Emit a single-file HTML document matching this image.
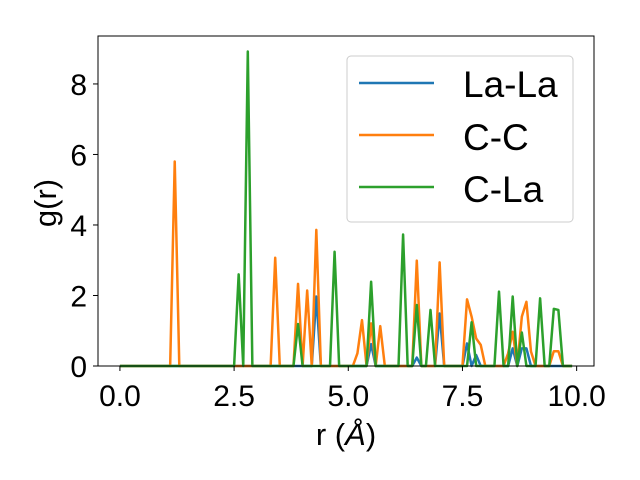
<!DOCTYPE html>
<html><head><meta charset="utf-8"><style>
html,body{margin:0;padding:0;background:#fff;}
svg{display:block;font-family:"Liberation Sans","DejaVu Sans",sans-serif;}
</style></head><body>
<svg id="chart" width="640" height="480" viewBox="0 0 640 480" xmlns="http://www.w3.org/2000/svg">
<rect width="640" height="480" fill="#fff"/>
<g id="series"></g>
<g id="axes"></g>
<g>
<rect x="347" y="56" width="226" height="166" rx="4" fill="#fff" fill-opacity="0.8" stroke="#ccc" stroke-width="1"/>
<g><line x1="359" y1="83" x2="434" y2="83" stroke="#1f77b4" stroke-width="2.5"/><text x="463" y="97" font-size="37">La-La</text></g>
<g><line x1="359" y1="135" x2="434" y2="135" stroke="#ff7f0e" stroke-width="2.5"/><text x="463" y="150" font-size="37">C-C</text></g>
<g><line x1="359" y1="187" x2="434" y2="187" stroke="#2ca02c" stroke-width="2.5"/><text x="463" y="202" font-size="37">C-La</text></g>
</g>
<text x="346" y="445" font-size="31" text-anchor="middle">r (<tspan font-style="italic">Å</tspan>)</text>
<text transform="translate(56,203) rotate(-90)" font-size="31" text-anchor="middle">g(r)</text>
</svg>
<script>
const rStep = 0.1;
const nPoints = 100;
const laLaPeaks = [[43,1.97],[55,0.62],[65,0.24],[70,1.49],[76,0.64],[78,0.31],[86,0.5],[88,0.5],[89,0.5]];
const ccPeaks = [[12,5.8],[34,3.07],[39,2.33],[41,2.14],[43,3.86],[52,0.36],[53,1.3],[55,1.21],[57,1.13],[65,2.99],[70,2.94],[76,1.89],[77,1.4],[78,0.78],[79,0.6],[85,0.36],[86,0.97],[88,1.4],[89,1.82],[90,0.41],[95,0.42],[96,0.42]];
const cLaPeaks = [[26,2.6],[28,8.92],[39,1.19],[47,3.24],[55,2.39],[62,3.73],[65,1.73],[68,1.59],[77,1.24],[83,2.11],[86,1.97],[88,0.95],[92,1.92],[95,1.62],[96,1.59]];
const xTicks = [0, 2.5, 5, 7.5, 10];
const xTickLabels = ["0.0","2.5","5.0","7.5","10.0"];
const yTicks = [0, 2, 4, 6, 8];
const yTickLabels = ["0","2","4","6","8"];

const L=98, R=594, T=36, B=366;
const xMin=-0.48, xMax=10.38, yMin=0, yMax=9.36;
const xs = v => L + (v - xMin) / (xMax - xMin) * (R - L);
const ys = v => B - (v - yMin) / (yMax - yMin) * (B - T);
const NS = "http://www.w3.org/2000/svg";
function fill(peaks){const a=new Array(nPoints).fill(0);peaks.forEach(p=>{a[p[0]]=p[1];});return a;}
const seriesG=document.getElementById('series');
const defs=[["la-la",laLaPeaks,"#1f77b4"],["c-c",ccPeaks,"#ff7f0e"],["c-la",cLaPeaks,"#2ca02c"]];
defs.forEach(d=>{
  const vals=fill(d[1]);
  const pts=vals.map((v,i)=>xs(i*rStep).toFixed(2)+","+ys(v).toFixed(2)).join(" ");
  const pl=document.createElementNS(NS,"polyline");
  pl.setAttribute("points",pts);
  pl.setAttribute("fill","none");
  pl.setAttribute("stroke",d[2]);
  pl.setAttribute("stroke-width","2.5");
  pl.setAttribute("stroke-linejoin","round");
  
  
  seriesG.appendChild(pl);
});
const ax=document.getElementById('axes');
function add(tag,attrs,text){const e=document.createElementNS(NS,tag);for(const k in attrs)e.setAttribute(k,attrs[k]);if(text!==undefined)e.textContent=text;ax.appendChild(e);return e;}
const frame=add("rect",{x:L,y:T,width:R-L,height:B-T,fill:"none",stroke:"#000","stroke-width":1});


xTicks.forEach((t,i)=>{
  const x=xs(t);
  const tk=add("line",{x1:x,y1:B,x2:x,y2:B+5,stroke:"#000","stroke-width":1});
  
  
  const lb=add("text",{x:x,y:B+40,"font-size":30,"text-anchor":"middle"},xTickLabels[i]);
  
  
});
yTicks.forEach((t,i)=>{
  const y=ys(t);
  const tk=add("line",{x1:L-5,y1:y,x2:L,y2:y,stroke:"#000","stroke-width":1});
  
  
  const lb=add("text",{x:L-11,y:y+11,"font-size":30,"text-anchor":"end"},yTickLabels[i]);
  
  
});
</script>
</body></html>
